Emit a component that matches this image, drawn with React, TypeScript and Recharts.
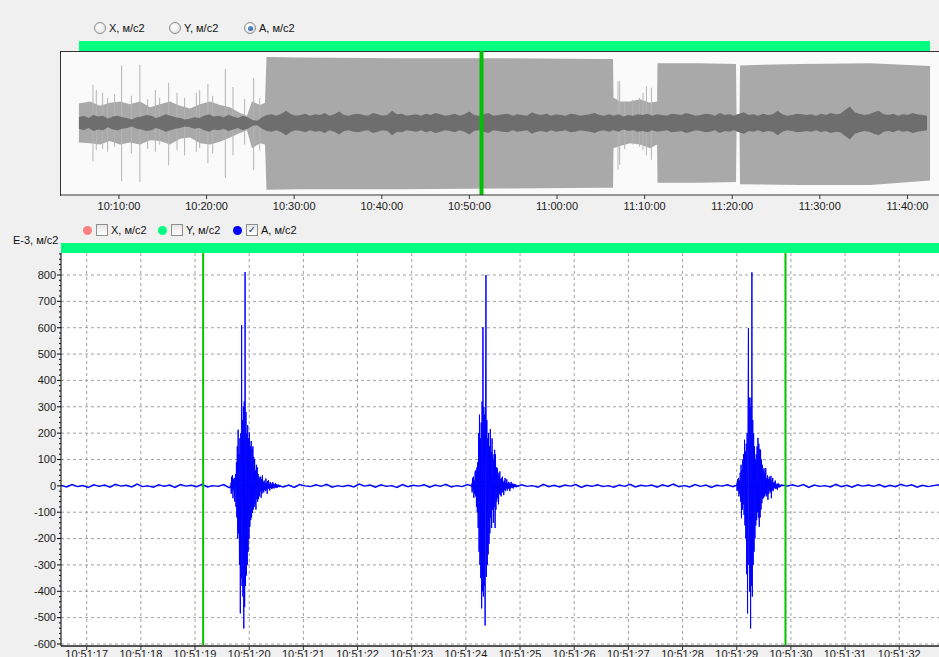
import React from "react";
import {
  ComposedChart,
  Area,
  Bar,
  Line,
  XAxis,
  YAxis,
  CartesianGrid,
  ReferenceLine
} from "recharts";

const FONT = "'Liberation Sans', Arial, sans-serif";

// ---- overview chart (minutes after 10:00) ----
const overviewTicks = [10, 20, 30, 40, 50, 60, 70, 80, 90, 100];
const overviewCursor = 51.38;

// light grey envelope of the whole record
const envTime = [
  5.43, 6.69, 7.83, 8.97, 10.11, 11.26, 12.4, 13.54, 14.68, 15.82, 16.96, 18.1,
  19.25, 20.39, 21.53, 22.67, 23.81, 24.61, 25.18, 26.1, 26.67, 26.84, 30.66,
  42.08, 53.49, 64.91, 66.39, 66.45, 67.19, 68.33, 69.47, 70.62, 71.42, 71.47,
  76.32, 80.43, 80.49, 80.83, 80.89, 87.74, 95.73, 102.58
];
const envHi = [
  0.27, 0.3, 0.24, 0.28, 0.3, 0.26, 0.3, 0.22, 0.26, 0.3, 0.24, 0.2,
  0.26, 0.3, 0.25, 0.22, 0.14, 0.1, 0.3, 0.25, 0.28, 0.917, 0.91,
  0.9, 0.9, 0.89, 0.89, 0.35, 0.3, 0.3, 0.33, 0.28, 0.3, 0.83,
  0.83, 0.82, 0.12, 0.12, 0.8, 0.82, 0.83, 0.79
];
const envLo = [
  -0.27, -0.28, -0.3, -0.25, -0.3, -0.27, -0.3, -0.24, -0.25, -0.3, -0.22, -0.2,
  -0.28, -0.3, -0.26, -0.2, -0.14, -0.1, -0.35, -0.28, -0.3, -0.926, -0.92,
  -0.92, -0.91, -0.9, -0.9, -0.35, -0.32, -0.28, -0.3, -0.35, -0.3, -0.83,
  -0.83, -0.82, -0.12, -0.12, -0.85, -0.86, -0.86, -0.8
];

// isolated peaks outside the loud blocks
const spikeTime = [
  7.07, 7.45, 8.17, 8.74, 9.54, 10.34, 11.45, 12.43, 13.31, 14.19, 14.68, 15.71,
  16.66, 17.53, 18.87, 19.25, 20.19, 20.73, 22.18, 23.05, 24.38, 25.41, 26.1,
  67.0, 67.19, 67.76, 68.68, 69.47, 69.85, 70.24, 70.81
];
const spikeHi = [
  0.53, 0.46, 0.42, 0.35, 0.4, 0.8, 0.38, 0.81, 0.33, 0.46, 0.35, 0.56,
  0.42, 0.35, 0.42, 0.46, 0.54, 0.38, 0.75, 0.5, 0.33, 0.62, 0.35,
  0.58, 0.58, 0.3, 0.32, 0.35, 0.42, 0.51, 0.49
];
const spikeLo = [
  -0.53, -0.38, -0.36, -0.4, -0.33, -0.81, -0.42, -0.82, -0.36, -0.4, -0.3, -0.59,
  -0.38, -0.45, -0.4, -0.35, -0.56, -0.42, -0.76, -0.45, -0.3, -0.65, -0.38,
  -0.65, -0.58, -0.36, -0.3, -0.33, -0.37, -0.45, -0.51
];

// dark core band (sampled every 0.55 min)
const coreStart = 5.43;
const coreStep = 0.55;
const coreAmp = [
  0.08, 0.1, 0.07, 0.11, 0.09, 0.1, 0.06, 0.09, 0.1, 0.08, 0.07, 0.05, 0.08, 0.09, 0.11, 0.1, 0.07, 0.09, 0.12, 0.1,
  0.08, 0.07, 0.05, 0.06, 0.08, 0.07, 0.1, 0.12, 0.09, 0.1, 0.08, 0.11, 0.09, 0.07, 0.1, 0.08, 0.04, 0.03,
  0.08, 0.11, 0.12, 0.1, 0.13, 0.17, 0.12, 0.1, 0.11, 0.13, 0.1, 0.12, 0.11, 0.14, 0.1, 0.12, 0.16, 0.11, 0.1, 0.12,
  0.13, 0.11, 0.1, 0.14, 0.12, 0.1, 0.11, 0.17, 0.12, 0.13, 0.1, 0.11, 0.12, 0.1, 0.13, 0.11, 0.14, 0.12, 0.1, 0.11,
  0.13, 0.1, 0.12, 0.16, 0.11, 0.1, 0.12, 0.14, 0.1, 0.11, 0.12, 0.13, 0.1, 0.12, 0.11, 0.1, 0.15, 0.12, 0.11, 0.13,
  0.1, 0.12, 0.11, 0.1, 0.13, 0.12, 0.1, 0.11, 0.12, 0.14, 0.11, 0.1, 0.12,
  0.1, 0.12, 0.09, 0.11, 0.1, 0.12, 0.11, 0.13, 0.1, 0.12, 0.11, 0.1, 0.13, 0.12, 0.11, 0.14, 0.12, 0.1, 0.11, 0.13,
  0.12, 0.1, 0.14, 0.11, 0.12, 0.1, 0.13, 0.15, 0.11, 0.12, 0.1, 0.13, 0.11, 0.12, 0.17, 0.12, 0.1, 0.11, 0.13, 0.12,
  0.11, 0.12, 0.1, 0.13, 0.11, 0.14, 0.12, 0.13, 0.18, 0.23, 0.15, 0.13, 0.11, 0.12, 0.15, 0.17, 0.12, 0.11, 0.13, 0.1,
  0.12, 0.11, 0.14, 0.12, 0.11, 0.1
];

// ---- detail chart (seconds after 10:51:00), values in E-3 m/s2 ----
const detailTicks = [17, 18, 19, 20, 21, 22, 23, 24, 25, 26, 27, 28, 29, 30, 31, 32];
const yMajor = [-600, -500, -400, -300, -200, -100, 0, 100, 200, 300, 400, 500, 600, 700, 800];
const markerTimes = [19.15, 29.9];

const noiseStart = 16.53;
const noiseStep = 0.1;
const noiseValues = [
  2, -4, 5, -3, 1, -6, 4, -2, 3, -5, 6, -1, 2, -4, 7, -3, 0, -5, 4, -2,
  3, -6, 5, -1, 2, -3, 6, -4, 1, -2, 5, -7, 3, -1, 4, -3, 2, -5, 6, -2,
  1, -4, 3, -6, 5, 0, -3, 4, -2, 6, -5, 1, -3, 2, -4, 7, -1, 3, -5, 4,
  -2, 1, -6, 5, -3, 2, -1, 4, -5, 3, -2, 6, -4, 1, -3, 5, -2, 0, -4, 3,
  -6, 2, -1, 5, -3, 4, -2, 1, -5, 6, -3, 2, -4, 3, -1, 5, -6, 2, -2, 4,
  -3, 1, -5, 3, -2, 6, -4, 2, -1, 3, -5, 4, -2, 7, -3, 1, -4, 5, -2, 3,
  -6, 2, -1, 4, -3, 5, -2, 1, -4, 6, -3, 2, -5, 3, -1, 4, -2, 5, -6, 3,
  -2, 1, -4, 6, -3, 2, -5, 4, -1, 3, -2, 5, -4, 2, -3, 6, -1, 4, -5, 2,
  -3, 1, 4, -2
];

const burstStep = 0.008;
const burst1Start = 19.66;
const burst1 = [
  12, -30, 35, -20, 40, -47, 25, -15, 30, -60, 20, 45,
  -80, 90, -120, 150, -200, 213, -180, 120, -300, 180,
  -484, 200, -350, 610, -380, 250, -420, 300, -541,
  320, -460, 811, -380, 280, -340, 200, -300, 230, -250,
  180, -200, 203, -155, 150, -130, 170, -120, 140,
  -103, 150, -90, 110, -80, 100, -70, 60, -90, 80, -50, 70, -60, 45,
  -50, 35, -40, 30, -20, 35, -45, 25, -30, 40, -20, 15, -25, 20, -15, 10,
  -20, 28, -15, 12, -30, 18, -10, 22, -12, 8, -18, 15, -8, 10, -12, 6, -10, 14,
  -6, 8, -10, 5, -8, 10, -5, 6, -8, 4, -6, 5, -3, 4, -5, 3, -2, 0
];
const burst2Start = 24.107;
const burst2 = [
  10, -25, 30, -15, 35, -45, 20, -30, 55, -40, 60, -80, 70, -100, 90,
  -160, 200, -250, 270, -300, 180, -350, 240, -465, 320, -400,
  602, -420, 300, -380, 270, -530, 300, 800, -345,
  250, -300, 180, -260, 200, -220, 150, -180,
  215, -120, 130, -160, 180, -90, 120, -140, 100, -80, 137, -160,
  120, -90, 70, -60, 68, -47, 50, -70, 40, -30, 55, -35,
  25, -40, 30, -20, 35, -25, 15, -35, 20, -15, 30, -20, 12, -10, 25, -18, 10, -12,
  15, -8, 12, -20, 8, -10, 15, -6, 10, -8, 6, -10, 8, -5, 6, -4, 5, -3, 4, -2, 0
];
const burst3Start = 29.0;
const burst3 = [
  10, -20, 25, -15, 30, -40, 20, -30,
  50, -60, 80, -123, 60, -90, 100, -70, 120, -110, 175, -150,
  130, -200, 160, -335, 200, -484, 250,
  598, -300, 335, -402, 300, -541, 335, -380, 810,
  -420, 250, -300, 200, -250, 150, -200, 100, -150,
  120, -130, 150, -100, 182, -120, 160, -155, 140,
  -120, 137, -90, 100, -66, 80, -50, 60, -45, 67, -40, 50,
  -30, 67, -40, 30, -35, 40, -53, 25, -30, 35, -20, 25,
  -25, 38, -47, 20, -15, 30, -20, 12, -10, 15, -8, 20, -12, 8, -10, 6, -15, 10,
  -5, 8, -6, 4, -5, 3, -2, 0
];

// ---- tables built from the arrays ----
const envRows = envTime.map((t, i) => ({ t, lo: envLo[i], hi: envHi[i] }));
const spikeRows = spikeTime.map((t, i) => ({ t, lo: spikeLo[i], hi: spikeHi[i] }));
const coreRows = coreAmp.map((a, i) => ({ t: coreStart + i * coreStep, a }));
const sampled = (start: number, step: number, vals: number[]) =>
  vals.map((v, i) => ({ t: start + i * step, v }));
const noiseRows = sampled(noiseStart, noiseStep, noiseValues);
const burstRows = [
  sampled(burst1Start, burstStep, burst1),
  sampled(burst2Start, burstStep, burst2),
  sampled(burst3Start, burstStep, burst3)
];
const yMinor: number[] = [];
for (let v = -600; v <= 880; v += 20) yMinor.push(v);

const pad = (n: number) => (n < 10 ? "0" + n : "" + n);
const fmtOverview = (m: number) => `${10 + Math.floor(m / 60)}:${pad(m % 60)}:00`;
const fmtDetail = (s: number) => `10:51:${pad(s)}`;

const OV_DOMAIN: [number, number] = [3.27, 103.6];
const OV_MARGIN = { top: 51, right: 0, left: 60, bottom: 0 };

function DetailYTick(props: any) {
  const { x, y, payload } = props;
  const major = payload.value % 100 === 0;
  return (
    <g>
      <line x1={x - (major ? 4 : 2)} x2={x} y1={y} y2={y} stroke="#000" />
      {major && (
        <text x={x - 5} y={y} dy="0.35em" textAnchor="end" fontSize={11} fill="#1a1a1a" fontFamily={FONT}>
          {payload.value}
        </text>
      )}
    </g>
  );
}

function Radio({ x, label, checked }: { x: number; label: string; checked?: boolean }) {
  return (
    <div style={{ position: "absolute", left: x - 6, top: 22, display: "flex", alignItems: "center", height: 12 }}>
      <div
        style={{
          width: 10, height: 10, borderRadius: 6, border: "1px solid #8a8a8a",
          background: "radial-gradient(circle at 40% 40%, #ffffff, #dcdcdc)", position: "relative"
        }}
      >
        {checked && (
          <div style={{
            position: "absolute", left: 2.5, top: 2.5, width: 5, height: 5, borderRadius: 3,
            background: "radial-gradient(circle at 40% 40%, #5fa0e0, #1d4f8a)"
          }} />
        )}
      </div>
      <span style={{ marginLeft: 3, fontSize: 11, color: "#111" }}>{label}</span>
    </div>
  );
}

function LegendItem({ x, color, label, checked }: { x: number; color: string; label: string; checked?: boolean }) {
  return (
    <div style={{ position: "absolute", left: x - 5, top: 224, display: "flex", alignItems: "center", height: 12 }}>
      <div style={{ width: 9, height: 9, borderRadius: 5, background: color }} />
      <div
        style={{
          marginLeft: 4, width: 10, height: 10, border: "1px solid #8e8f8f",
          background: "linear-gradient(#e6e6e6, #ffffff)", position: "relative",
          fontSize: 10, lineHeight: "10px", textAlign: "center", color: "#1c3a70", fontFamily: "'DejaVu Sans'"
        }}
      >
        {checked ? "✓" : ""}
      </div>
      <span style={{ marginLeft: 3, fontSize: 11, color: "#111" }}>{label}</span>
    </div>
  );
}

export default function App() {
  const layer: React.CSSProperties = { position: "absolute", left: 0, top: 0 };
  return (
    <div
      style={{
        position: "fixed", left: 0, top: 0, width: 939, height: 657, overflow: "hidden",
        background: "#f0f0f0", fontFamily: FONT
      }}
    >
      <Radio x={100} label="X, м/с2" />
      <Radio x={175} label="Y, м/с2" />
      <Radio x={250} label="A, м/с2" checked />
      <div style={{ position: "absolute", left: 79, top: 41, width: 851, height: 10, background: "#00ff80" }} />
      <div
        style={{
          position: "absolute", left: 60, top: 51, width: 879, height: 145, boxSizing: "border-box",
          background: "#fafafa", borderLeft: "1px solid #333", borderTop: "1px solid #333"
        }}
      />

      <div style={layer}>
        <ComposedChart width={939} height={215} data={envRows} margin={OV_MARGIN}>
          <XAxis dataKey="t" type="number" domain={OV_DOMAIN} allowDataOverflow height={20} tick={false} axisLine={false} tickLine={false} />
          <YAxis hide domain={[-1, 1]} allowDataOverflow />
          <Area type="linear" dataKey={(d: any) => [d.lo, d.hi]} stroke="none" fill="#a9a9a9" fillOpacity={1} isAnimationActive={false} />
        </ComposedChart>
      </div>
      <div style={layer}>
        <ComposedChart width={939} height={215} data={spikeRows} margin={OV_MARGIN}>
          <XAxis dataKey="t" type="number" domain={OV_DOMAIN} allowDataOverflow height={20} tick={false} axisLine={false} tickLine={false} />
          <YAxis hide domain={[-1, 1]} allowDataOverflow />
          <Bar dataKey={(d: any) => [d.lo, d.hi]} barSize={1} fill="#b4b4b4" isAnimationActive={false} />
        </ComposedChart>
      </div>
      <div style={layer}>
        <ComposedChart width={939} height={215} data={coreRows} margin={OV_MARGIN}>
          <XAxis
            dataKey="t" type="number" domain={OV_DOMAIN} allowDataOverflow height={20}
            ticks={overviewTicks} interval={0} tickFormatter={fmtOverview}
            tick={{ fontSize: 11, fill: "#1a1a1a", fontFamily: FONT }}
            axisLine={{ stroke: "#333" }} tickLine={{ stroke: "#333" }} tickSize={4} tickMargin={3}
          />
          <YAxis hide domain={[-1, 1]} allowDataOverflow />
          <Area type="linear" dataKey={(d: any) => [-d.a, d.a]} stroke="none" fill="#6e6e6e" fillOpacity={1} isAnimationActive={false} />
          <ReferenceLine x={overviewCursor} stroke="#00c000" strokeWidth={4} />
        </ComposedChart>
      </div>

      <LegendItem x={88} color="#ff8080" label="X, м/с2" />
      <LegendItem x={163} color="#00ff80" label="Y, м/с2" />
      <LegendItem x={238} color="#0000ff" label="A, м/с2" checked />
      <div style={{ position: "absolute", left: 13, top: 234, fontSize: 11, color: "#111", whiteSpace: "nowrap" }}>E-3, м/с2</div>
      <div style={{ position: "absolute", left: 61, top: 243, width: 878, height: 10, background: "#00ff80" }} />
      <div style={{ position: "absolute", left: 61, top: 253, width: 878, height: 393, background: "#ffffff" }} />

      <div style={{ position: "absolute", left: 0, top: 253 }}>
        <ComposedChart width={939} height={423} data={noiseRows} margin={{ top: 0, right: 0, left: 0, bottom: 0 }}>
          <CartesianGrid horizontalValues={yMajor} verticalValues={detailTicks} stroke="#a0a0a0" strokeDasharray="3 3" />
          <XAxis
            dataKey="t" type="number" domain={[16.5256, 32.734]} allowDataOverflow height={30}
            ticks={detailTicks} interval={0} tickFormatter={fmtDetail}
            tick={{ fontSize: 11, fill: "#1a1a1a", fontFamily: FONT }}
            axisLine={{ stroke: "#555", strokeWidth: 2 }} tickLine={{ stroke: "#333" }} tickSize={4} tickMargin={0}
          />
          <YAxis
            type="number" domain={[-607.6, 883.5]} allowDataOverflow width={61}
            ticks={yMinor} interval={0} tick={<DetailYTick />} tickLine={false} tickSize={0} tickMargin={0}
            axisLine={{ stroke: "#000" }}
          />
          <Line type="linear" dataKey="v" stroke="#0000ff" strokeWidth={1.4} dot={false} isAnimationActive={false} />
          {burstRows.map((rows, i) => (
            <Line key={i} data={rows} type="linear" dataKey="v" stroke="#0000ff" strokeWidth={1} dot={false} isAnimationActive={false} />
          ))}
          {markerTimes.map((t) => (
            <ReferenceLine key={t} x={t} stroke="#00c000" strokeWidth={2} />
          ))}
        </ComposedChart>
      </div>
    </div>
  );
}
